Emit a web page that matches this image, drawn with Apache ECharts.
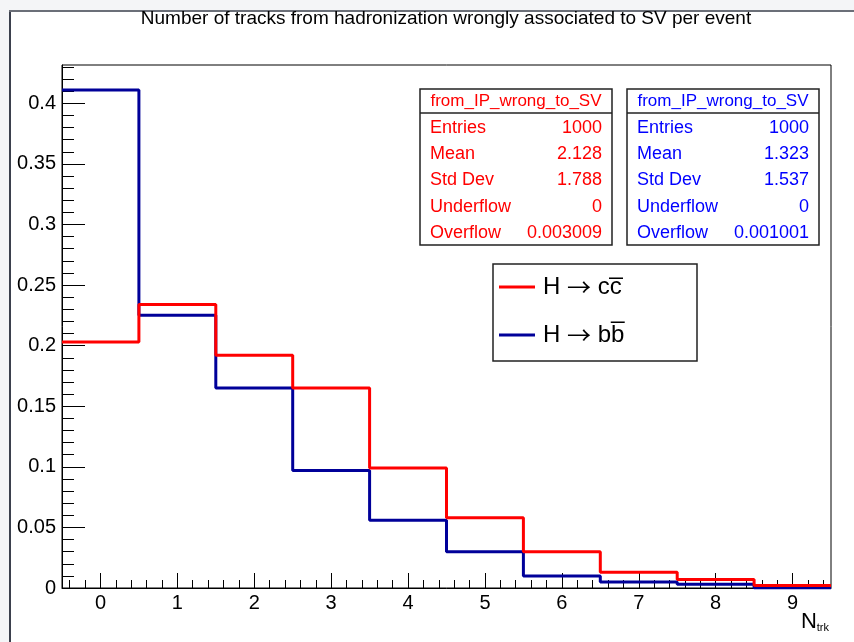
<!DOCTYPE html>
<html>
<head>
<meta charset="utf-8">
<script src="https://cdn.jsdelivr.net/npm/echarts@6/dist/echarts.min.js"></script>
<style>
  html, body { margin: 0; padding: 0; background: #f4f5f7; }
  #chart { width: 854px; height: 642px; }
</style>
</head>
<body>
<div id="chart"></div>
<script>
// Bin centres of the N_trk histogram (unit-width bins)
const bins = [0, 1, 2, 3, 4, 5, 6, 7, 8, 9];
// Normalised bin contents
const ccValues = [0.203, 0.234, 0.192, 0.165, 0.099, 0.058, 0.030, 0.013, 0.007, 0.002];
const bbValues = [0.411, 0.225, 0.165, 0.097, 0.056, 0.030, 0.010, 0.005, 0.003, 0.000];

// Axis ticks
const xMajorTicks = [0, 1, 2, 3, 4, 5, 6, 7, 8, 9];
const yMajorTicks = [0, 0.05, 0.1, 0.15, 0.2, 0.25, 0.3, 0.35, 0.4];
const xRange = [-0.5, 9.5];
const yMax = 0.4316;

// Statistics boxes
const statNames = ['Entries', 'Mean', 'Std Dev', 'Underflow', 'Overflow'];
const ccStats = ['1000', '2.128', '1.788', '0', '0.003009'];
const bbStats = ['1000', '1.323', '1.537', '0', '0.001001'];
const statTitle = 'from_IP_wrong_to_SV';

const ccName = 'H \u2192 cc\u0305';
const bbName = 'H \u2192 bb\u0305';

const FONT = '"Liberation Sans", Arial, Helvetica, sans-serif';

// minor ticks: every 0.2 on x, every 0.01 on y (skipping majors)
const xMinorTicks = [];
for (let k = -2; k <= 47; k++) {
  if (k % 5 !== 0) xMinorTicks.push(+(k * 0.2).toFixed(2));
}
const yMinorTicks = [];
for (let k = 1; k <= 43; k++) {
  if (k % 5 !== 0) yMinorTicks.push(+(k * 0.01).toFixed(2));
}

// histogram outline: one point at each low bin edge plus the final upper edge
function histPoints(values) {
  const pts = bins.map((c, i) => [c - 0.5, values[i]]);
  pts.push([bins[bins.length - 1] + 0.5, values[values.length - 1]]);
  return pts;
}

function statsBox(x, color, values) {
  const w = 192, top = 89, h = 156, headH = 24, rowY0 = 128, rowStep = 26.2;
  const children = [
    { type: 'rect', shape: { x: x, y: top, width: w, height: h },
      style: { fill: '#fff', stroke: '#222', lineWidth: 1.5 } },
    { type: 'line', shape: { x1: x, y1: top + headH, x2: x + w, y2: top + headH },
      style: { stroke: '#222', lineWidth: 1.5 } },
    { type: 'text', x: x + w / 2, y: top + headH / 2 + 0.5,
      style: { text: statTitle, fill: color, font: '17px ' + FONT, align: 'center', verticalAlign: 'middle' } }
  ];
  statNames.forEach((n, i) => {
    children.push({ type: 'text', x: x + 10, y: rowY0 + i * rowStep,
      style: { text: n, fill: color, font: '18px ' + FONT, align: 'left', verticalAlign: 'middle' } });
    children.push({ type: 'text', x: x + w - 10, y: rowY0 + i * rowStep,
      style: { text: values[i], fill: color, font: '18px ' + FONT, align: 'right', verticalAlign: 'middle' } });
  });
  return { type: 'group', children: children, z: 10 };
}

const chart = echarts.init(document.getElementById('chart'));

const axisLineStyle = { color: '#000', width: 1 };

chart.setOption({
  animation: false,
  backgroundColor: 'transparent',
  textStyle: { fontFamily: FONT },
  grid: {
    left: 62, top: 65, width: 769, height: 523,
    show: true, borderColor: '#000', borderWidth: 1, backgroundColor: '#fff',
    containLabel: false
  },
  xAxis: [
    {
      type: 'value', min: xRange[0], max: xRange[1], position: 'bottom',
      axisLine: { show: true, onZero: false, lineStyle: axisLineStyle },
      axisTick: { show: true, inside: true, length: 15, customValues: xMajorTicks, lineStyle: axisLineStyle },
      axisLabel: { show: true, customValues: xMajorTicks, fontSize: 20, margin: 5, color: '#000',
                   formatter: v => String(v) },
      splitLine: { show: false }
    },
    {
      type: 'value', min: xRange[0], max: xRange[1], position: 'bottom',
      axisLine: { show: false, onZero: false },
      axisTick: { show: true, inside: true, length: 8, customValues: xMinorTicks, lineStyle: axisLineStyle },
      axisLabel: { show: false },
      splitLine: { show: false }
    }
  ],
  yAxis: [
    {
      type: 'value', min: 0, max: yMax, position: 'left',
      axisLine: { show: true, onZero: false, lineStyle: axisLineStyle },
      axisTick: { show: true, inside: true, length: 23, customValues: yMajorTicks, lineStyle: axisLineStyle },
      axisLabel: { show: true, customValues: yMajorTicks, fontSize: 20, margin: 6, color: '#000',
                   formatter: v => String(+(+v).toFixed(2)) },
      splitLine: { show: false }
    },
    {
      type: 'value', min: 0, max: yMax, position: 'left',
      axisLine: { show: false, onZero: false },
      axisTick: { show: true, inside: true, length: 12, customValues: yMinorTicks, lineStyle: axisLineStyle },
      axisLabel: { show: false },
      splitLine: { show: false }
    }
  ],
  legend: {
    data: [ccName, bbName],
    orient: 'vertical',
    left: 499, top: 275, padding: 0,
    icon: 'rect', itemWidth: 36, itemHeight: 3, itemGap: 24,
    formatter: name => '{t|' + name.replace(' \u2192 ', ' }{a|\u2192}{t| ') + '}',
    textStyle: {
      fontSize: 24, color: '#000', fontFamily: FONT, padding: [0, 0, 0, 3],
      rich: {
        t: { fontSize: 24, fontFamily: FONT, color: '#000' },
        a: { fontSize: 24, fontFamily: '"Noto Sans CJK SC", "DejaVu Sans", sans-serif', color: '#000' }
      }
    },
    z: 20
  },
  series: [
    {
      name: bbName, type: 'line', step: 'end', xAxisIndex: 0, yAxisIndex: 0,
      data: histPoints(bbValues), showSymbol: false, symbol: 'none',
      color: '#000099', lineStyle: { color: '#000099', width: 3 }, z: 3
    },
    {
      name: ccName, type: 'line', step: 'end', xAxisIndex: 0, yAxisIndex: 0,
      data: histPoints(ccValues), showSymbol: false, symbol: 'none',
      color: '#ff0000', lineStyle: { color: '#ff0000', width: 3 }, z: 4
    }
  ],
  graphic: [
    // canvas pad
    { type: 'rect', shape: { x: 10, y: 11, width: 860, height: 650 }, style: { fill: '#fff' }, z: -100 },
    { type: 'line', shape: { x1: 10, y1: 10, x2: 10, y2: 650 }, style: { stroke: '#3b404d', lineWidth: 2 }, z: -99 },
    { type: 'line', shape: { x1: 9, y1: 11, x2: 860, y2: 11 }, style: { stroke: '#6b6f78', lineWidth: 2 }, z: -99 },
    // title
    { type: 'text', x: 446, y: 19, z: 10,
      style: { text: 'Number of tracks from hadronization wrongly associated to SV per event',
               font: '19px ' + FONT, fill: '#000', align: 'center', verticalAlign: 'middle' } },
    // x axis title
    { type: 'text', x: 829, y: 622, z: 10,
      style: { text: '{n|N}{s|trk}', align: 'right', verticalAlign: 'middle',
               rich: { n: { fontSize: 22, fontFamily: FONT, color: '#000' },
                       s: { fontSize: 11, fontFamily: FONT, color: '#000', padding: [12, 0, 0, 0] } } } },
    statsBox(420, '#ff0000', ccStats),
    statsBox(627, '#0000ff', bbStats),
    // legend frame
    { type: 'rect', shape: { x: 493, y: 264, width: 204, height: 97 },
      style: { fill: '#fff', stroke: '#222', lineWidth: 1.5 }, z: 5 }
  ]
});
</script>
</body>
</html>
